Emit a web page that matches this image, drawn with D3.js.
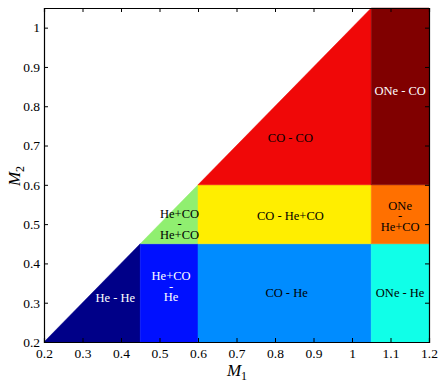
<!doctype html>
<html>
<head>
<style>
body { margin:0; background:#fff; }
svg text { font-family:"Liberation Serif","Times New Roman",serif; }
</style>
</head>
<body>
<svg width="440" height="387" id="chart"></svg>
<script src="https://d3js.org/d3.v7.min.js"></script>
<script>
// region boundaries in M1 and M2
var m1Edges = [0.2, 0.45, 0.6, 1.05, 1.2];
var m2Edges = [0.2, 0.45, 0.6, 1.05];

// regions: m1 column, m2 row, label lines, colours
var regionCol = [0, 1, 1, 2, 2, 2, 3, 3, 3];
var regionRow = [0, 0, 1, 0, 1, 2, 0, 1, 2];
var regionLabel = [["He - He"], ["He+CO", "-", "He"], ["He+CO", "-", "He+CO"],
  ["CO - He"], ["CO - He+CO"], ["CO - CO"],
  ["ONe - He"], ["ONe", "-", "He+CO"], ["ONe - CO"]];
var regionColor = ["#000088", "#0010ff", "#90ef70", "#008cff", "#ffee00", "#f00808",
  "#10ffe8", "#ff7000", "#800000"];
var labelColor = ["#fff", "#fff", "#000", "#000", "#000", "#000", "#000", "#000", "#fff"];
// label anchors (M1, M2)
var labelM1 = [0.385, 0.53, 0.552, 0.83, 0.84, 0.84, 1.125, 1.125, 1.125];
var labelM2 = [0.313, 0.34, 0.5, 0.325, 0.52, 0.72, 0.325, 0.52, 0.84];

var xTicks = [0.2, 0.3, 0.4, 0.5, 0.6, 0.7, 0.8, 0.9, 1, 1.1, 1.2];
var yTicks = [0.2, 0.3, 0.4, 0.5, 0.6, 0.7, 0.8, 0.9, 1];

var serif = '"Liberation Serif","Times New Roman",serif';
var svg = d3.select("#chart");
var padL = 44, padR = 429, padT = 8, padB = 342;

var x = d3.scaleLinear().domain([0.2, 1.2]).range([padL, padR]);
var y = d3.scaleLinear().domain([0.2, 1.05]).range([padB, padT]);

// clip a rectangle by the half plane M2 <= M1
function clipCell(x0, x1, y0, y1) {
  var pts = [[x0, y0], [x1, y0], [x1, y1], [x0, y1]];
  var out = [];
  for (var i = 0; i < pts.length; i++) {
    var a = pts[i], b = pts[(i + 1) % pts.length];
    var ia = a[1] <= a[0] + 1e-9, ib = b[1] <= b[0] + 1e-9;
    if (ia) out.push(a);
    if (ia !== ib) {
      var da = a[1] - a[0], db = b[1] - b[0];
      var t = da / (da - db);
      out.push([a[0] + t * (b[0] - a[0]), a[1] + t * (b[1] - a[1])]);
    }
  }
  return out;
}

var regions = regionCol.map(function(c, i) {
  var r = regionRow[i];
  return {
    poly: clipCell(m1Edges[c], m1Edges[c + 1], m2Edges[r], m2Edges[r + 1]),
    color: regionColor[i], label: regionLabel[i], lc: labelColor[i],
    lx: labelM1[i], ly: labelM2[i]
  };
});

svg.append("g").selectAll("polygon").data(regions).enter().append("polygon")
  .attr("points", function(d) { return d.poly.map(function(p) { return x(p[0]) + "," + y(p[1]); }).join(" "); })
  .attr("fill", function(d) { return d.color; })
  .attr("stroke", function(d) { return d.color; })
  .attr("stroke-width", 0.5);

var labels = svg.append("g").selectAll("text").data(regions).enter().append("text")
  .attr("text-anchor", "middle")
  .style("font-family", serif)
  .style("font-size", "12.5px")
  .attr("fill", function(d) { return d.lc; })
  .attr("transform", function(d) { return "translate(" + x(d.lx) + "," + y(d.ly) + ")"; });
labels.each(function(d) {
  var t = d3.select(this), n = d.label.length;
  d.label.forEach(function(s, k) {
    t.append("tspan").attr("x", 0).attr("y", (k - (n - 1) / 2) * 10.5 + 4).text(s);
  });
});

// axes, box with inward ticks
var tl = 4;
svg.append("g").attr("transform", "translate(0," + padB + ")")
  .call(d3.axisBottom(x).tickValues(xTicks).tickSize(-tl).tickPadding(6).tickFormat(d3.format("")));
svg.append("g").attr("transform", "translate(0," + padT + ")")
  .call(d3.axisTop(x).tickValues(xTicks).tickSize(-tl).tickFormat(""));
svg.append("g").attr("transform", "translate(" + padL + ",0)")
  .call(d3.axisLeft(y).tickValues(yTicks).tickSize(-tl).tickPadding(4).tickFormat(d3.format("")));
svg.append("g").attr("transform", "translate(" + padR + ",0)")
  .call(d3.axisRight(y).tickValues(yTicks).tickSize(-tl).tickFormat(""));

svg.selectAll(".tick text").style("font-family", serif).style("font-size", "13.5px").attr("fill", "#000");
svg.selectAll(".domain").attr("stroke", "#000").attr("stroke-width", 1.2);
svg.selectAll(".tick line").attr("stroke", "#000");

var xl = svg.append("text").attr("x", 237).attr("y", 376).attr("text-anchor", "middle")
  .style("font-family", serif).style("font-size", "17px").style("font-style", "italic");
xl.append("tspan").text("M");
xl.append("tspan").style("font-size", "12px").attr("dy", 4).style("font-style", "normal").text("1");

var yl = svg.append("text").attr("transform", "translate(20,176) rotate(-90)").attr("text-anchor", "middle")
  .style("font-family", serif).style("font-size", "17px").style("font-style", "italic");
yl.append("tspan").text("M");
yl.append("tspan").style("font-size", "12px").attr("dy", 4).style("font-style", "normal").text("2");
</script>
</body>
</html>
